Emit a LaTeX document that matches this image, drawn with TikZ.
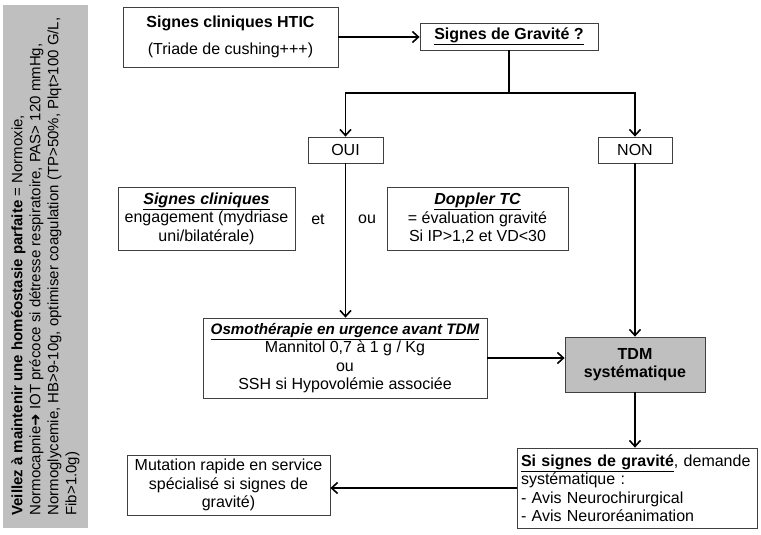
\documentclass[tikz,border=0pt]{standalone}
\usepackage{fontspec}
\setmainfont{Liberation Sans}
\newfontfamily\symfont{DejaVu Sans}
\usetikzlibrary{arrows.meta,positioning}

\begin{document}
\begin{tikzpicture}[x=1pt, y=-1pt,
  box/.style={rectangle, draw=black!75, line width=0.8pt, align=center, inner sep=2pt, font=\fontsize{16}{18.5}\selectfont},
  word/.style={font=\fontsize{16}{18.5}\selectfont},
  link/.style={line width=1.6pt, -{Straight Barb[length=6pt,width=11pt,line width=1.6pt]}}]
\useasboundingbox (0,0) rectangle (761,535);

\node (side) [rectangle, fill=black!25, rotate=90, minimum width=523pt, minimum height=85pt, align=left, inner sep=0pt, font=\fontsize{15}{18}\selectfont] at (45.5,266.5) {\textbf{Veillez à maintenir une homéostasie parfaite} = Normoxie,\\ Normocapnie{\symfont ➜} IOT précoce si détresse respiratoire, PAS> 120 mmHg,\\ Normoglycemie, HB>9-10g, optimiser coagulation (TP>50\%, Plqt>100 G/L,\\ Fib>1.0g)};

\node (htic) [box, minimum width=215pt, minimum height=60pt] at (230.5,37) {\textbf{Signes cliniques HTIC}\\[8pt] (Triade de cushing+++)};
\node (grav) [box, minimum width=178pt, minimum height=27pt] at (509,36.5) {\textbf{\underline{Signes de Gravité ?}}};
\node (oui) [box, minimum width=75pt, minimum height=26pt] at (345.5,150) {OUI};
\node (non) [box, minimum width=74pt, minimum height=26pt] at (635,150) {NON};
\node (clin) [box, minimum width=177pt, minimum height=63pt] at (206.5,218.5) {\textbf{\textit{\underline{Signes cliniques}}}\\ engagement (mydriase\\ uni/bilatérale)};
\node (et) [word] at (318,219) {et};
\node (ou) [word] at (367,219) {ou};
\node (doppler) [box, minimum width=181pt, minimum height=63pt] at (477.5,218.5) {\textbf{\textit{\underline{Doppler TC}}}\\ = évaluation gravité\\ Si IP>1,2 et VD<30};
\node (osmo) [box, minimum width=284pt, minimum height=80pt] at (345,358) {{\fontsize{15.2}{18.5}\selectfont\textbf{\textit{\underline{Osmothérapie en urgence avant TDM}}}}\\ Mannitol 0,7 à 1 g / Kg\\ ou\\ SSH si Hypovolémie associée};
\node (tdm) [box, fill=black!25, minimum width=140pt, minimum height=55pt] at (635,364.5) {\textbf{TDM}\\ \textbf{systématique}};
\node (grave) [box, align=left, text width=232pt, inner sep=4pt, minimum height=80pt] at (637,488) {\textbf{\underline{Si signes de gravité}}, demande\\ systématique :\\ - Avis Neurochirurgical\\ - Avis Neuroréanimation};
\node (mutation) [box, minimum width=203pt, minimum height=60pt] at (228.5,485) {Mutation rapide en service\\ spécialisé si signes de\\ gravité)};

\coordinate (split) at (509,93);
\draw [link] (htic.east) -- (htic.east -| grav.west);
\draw [line width=1.6pt] (grav.south) -- (split);
\draw [link] (split) -| (oui.north);
\draw [link] (split) -| (non.north);
\draw [link] (oui.south) -- (osmo.north -| oui.south);
\draw [link] (non.south) -- (tdm.north);
\draw [link] (osmo.east) -- (osmo.east -| tdm.west);
\draw [link] (tdm.south) -- (tdm.south |- grave.north);
\draw [link] (grave.west) -- (grave.west -| mutation.east);
\end{tikzpicture}
\end{document}
